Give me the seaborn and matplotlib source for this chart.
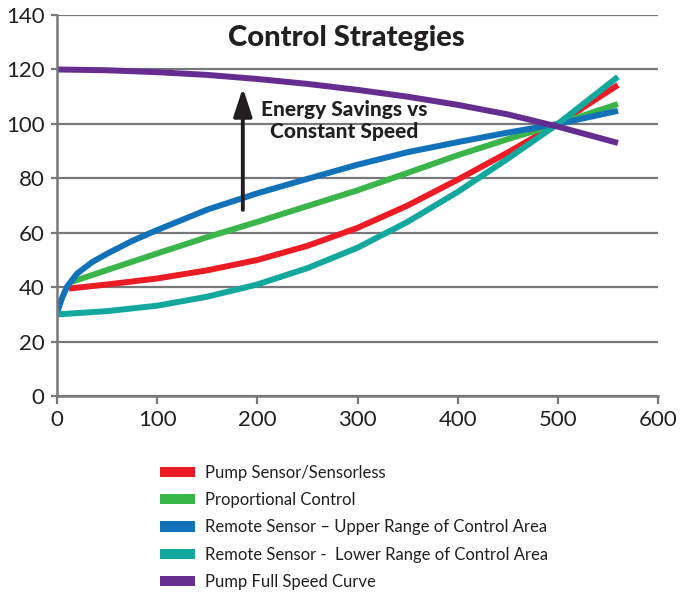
import numpy as np
import pandas as pd
import seaborn as sns
from matplotlib import pyplot as plt
from matplotlib.patches import Patch

# values
red_x = [12, 50, 100, 150, 200, 250, 300, 350, 400, 450, 500, 560]
red_y = [39.5, 41.0, 43.2, 46.2, 50.0, 55.2, 61.8, 70.0, 79.5, 89.5, 100.0, 114.3]

green_x = [15, 50, 100, 150, 200, 250, 300, 350, 400, 450, 500, 560]
green_y = [42.0, 46.3, 52.4, 58.4, 64.0, 69.8, 75.6, 82.0, 88.5, 94.4, 100.0, 107.3]

blue_x = [0, 5, 10, 20, 35, 50, 75, 100, 150, 200, 250, 300, 350, 400, 450, 500, 560]
blue_y = [30.5, 36.0, 40.2, 45.0, 49.2, 52.3, 57.0, 61.0, 68.5, 74.5, 79.8, 85.0, 89.6, 93.3, 96.8, 100.0, 104.8]

teal_x = [0, 50, 100, 150, 200, 250, 300, 350, 400, 450, 500, 560]
teal_y = [30.0, 31.2, 33.2, 36.5, 41.0, 47.0, 54.5, 64.0, 75.0, 87.2, 100.0, 117.3]

purple_x = [0, 50, 100, 150, 200, 250, 300, 350, 400, 450, 500, 560]
purple_y = [120.0, 119.7, 119.0, 118.0, 116.5, 114.7, 112.5, 110.0, 107.0, 103.5, 99.0, 93.0]

series_names = ["Pump Sensor/Sensorless",
                "Proportional Control",
                "Remote Sensor \u2013 Upper Range of Control Area",
                "Remote Sensor -  Lower Range of Control Area",
                "Pump Full Speed Curve"]
series_colors = ["#ed1c24", "#3ab54a", "#1172ba", "#13a89e", "#662d91"]

x_ticks = [0, 100, 200, 300, 400, 500, 600]
y_ticks = [0, 20, 40, 60, 80, 100, 120, 140]

# long-form table for seaborn
all_x = [red_x, green_x, blue_x, teal_x, purple_x]
all_y = [red_y, green_y, blue_y, teal_y, purple_y]
df = pd.concat([pd.DataFrame({"x": xs, "y": ys, "series": name})
                for xs, ys, name in zip(all_x, all_y, series_names)], ignore_index=True)
palette = dict(zip(series_names, series_colors))

sns.set_theme(style="white")
plt.rcParams['font.family'] = ['Lato', 'DejaVu Sans']

grid_gray = "#77787b"
text_color = "#231f20"

fig = plt.figure(figsize=(6.82, 5.92), dpi=100)
ax = fig.add_axes([0.0836, 0.331, 0.8812, 0.6436])

sns.lineplot(data=df, x="x", y="y", hue="series", palette=palette, hue_order=series_names,
             linewidth=4.3, sort=False, estimator=None, legend=False, ax=ax)
for line in ax.get_lines():
    line.set_solid_capstyle('butt')
    line.set_solid_joinstyle('round')

ax.set_xlim(0, 600)
ax.set_ylim(0, 140)
ax.set_xticks(x_ticks)
ax.set_yticks(y_ticks)
ax.set_xlabel("")
ax.set_ylabel("")
ax.yaxis.grid(True, color=grid_gray, linewidth=1.6)
ax.xaxis.grid(False)
ax.set_axisbelow(True)
for side in ["top", "right"]:
    ax.spines[side].set_visible(False)
for side in ["left", "bottom"]:
    ax.spines[side].set_color(grid_gray)
    ax.spines[side].set_linewidth(1.8)
ax.tick_params(axis="x", length=6, width=1.6, color=grid_gray, pad=4, labelsize=16, labelcolor=text_color)
ax.tick_params(axis="y", length=4, width=1.6, color=grid_gray, pad=5, labelsize=16, labelcolor=text_color)
ax.xaxis.set_ticks_position("bottom")
ax.yaxis.set_ticks_position("left")

ax.text(289, 131.6, "Control Strategies", ha="center", va="center",
        fontsize=21, fontweight="black", color=text_color)
ax.annotate("", xy=(185.5, 113.2), xytext=(185.5, 68.4),
            arrowprops=dict(arrowstyle="-|>,head_width=0.28,head_length=0.85",
                            mutation_scale=20, lw=2.8, color=text_color, shrinkA=0, shrinkB=0))
ax.text(287, 101.3, "Energy Savings vs\nConstant Speed", ha="center", va="center",
        fontsize=15, fontweight="black", color=text_color, linespacing=1.2)

handles = [Patch(facecolor=c, edgecolor="none") for c in series_colors]
fig.legend(handles, series_names, loc="upper left", bbox_to_anchor=(0.2346, 0.215),
           frameon=False, fontsize=12, handlelength=2.1, handleheight=0.55,
           handletextpad=0.6, labelspacing=0.68, borderaxespad=0, borderpad=0,
           labelcolor=text_color)

fig.savefig("out.png", dpi=100)
